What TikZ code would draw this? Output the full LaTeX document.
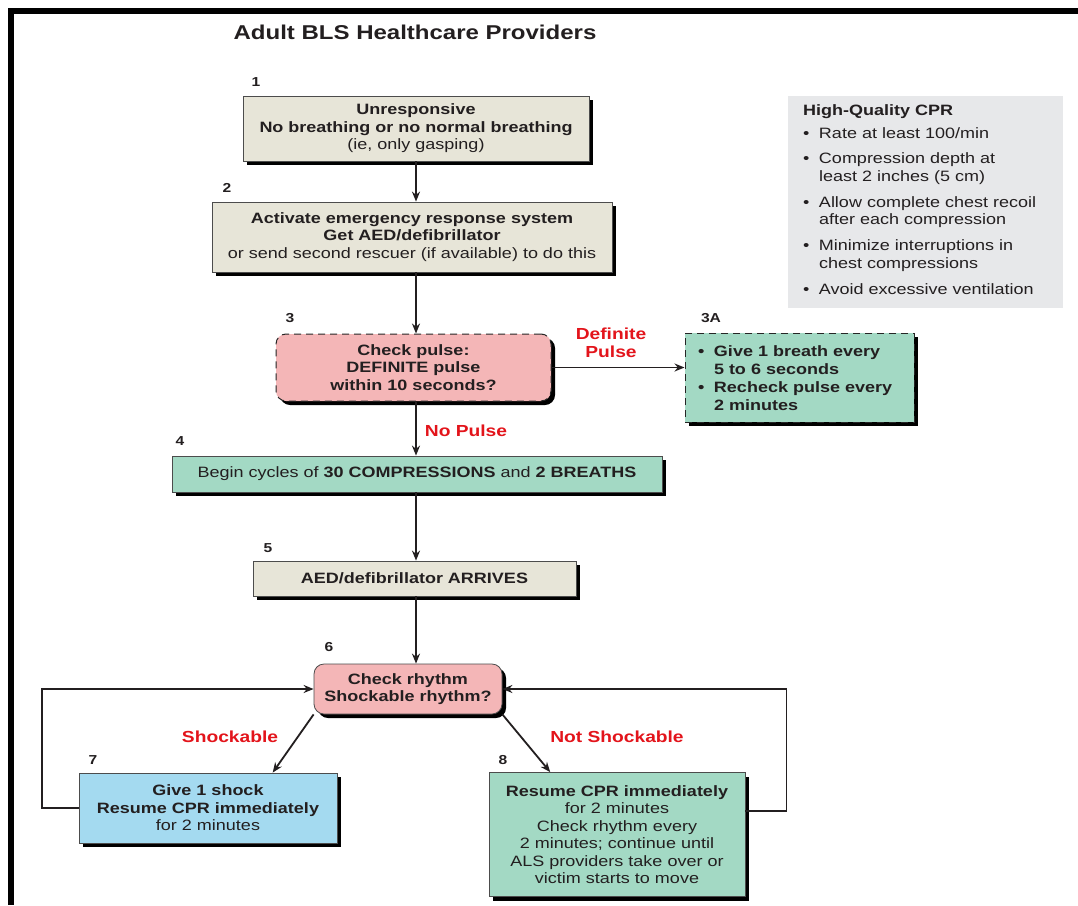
\documentclass[tikz,border=0pt]{standalone}
\usepackage{fontspec}
\setmainfont{Liberation Sans}[FakeStretch=1.2]
\usetikzlibrary{shadows,arrows.meta,calc}

\definecolor{ink}{HTML}{231F20}
\definecolor{boxbeige}{HTML}{E7E5D8}
\definecolor{boxpink}{HTML}{F4B6B7}
\definecolor{boxgreen}{HTML}{A3D9C4}
\definecolor{boxblue}{HTML}{A4DAF0}
\definecolor{panelgray}{HTML}{E7E8EA}
\definecolor{alertred}{HTML}{E3141B}

\newcommand{\bodysize}{\fontsize{15}{17.5}\selectfont}
% bulleted entry, its lines aligned after the bullet; optional space above
\newcommand{\listpoint}[2][0pt]{\par\vspace{#1}\noindent\hbox to 16pt{\textbullet\hfil}\begin{tabular}[t]{@{}l@{}}#2\end{tabular}}

\tikzset{
  stepbox/.style={draw=black!70, line width=0.8pt, text=ink, align=center,
    inner sep=0pt, font=\bodysize,
    drop shadow={shadow xshift=4pt, shadow yshift=-4pt, fill=black, opacity=1}},
  beigebox/.style={stepbox, fill=boxbeige},
  greenbox/.style={stepbox, fill=boxgreen},
  bluebox/.style={stepbox, fill=boxblue},
  pinkbox/.style={stepbox, fill=boxpink, rounded corners=10pt},
  dashbox/.style={draw=black!85, line width=1pt, dash pattern=on 7pt off 5pt},
  num/.style={font=\fontsize{13}{15}\selectfont\bfseries, text=ink, inner sep=0pt},
  branch/.style={font=\fontsize{16}{18}\selectfont\bfseries, text=alertred, align=center, inner sep=0pt},
  arr/.style={draw=ink, line width=1.8pt, -{Stealth[length=10pt,width=8pt]}},
}

\begin{document}
\begin{tikzpicture}[x=1pt,y=-1pt]
\useasboundingbox (0,0) rectangle (1078,905);
\fill[white] (0,0) rectangle (1078,905);

% frame
\fill[black] (8,8) rectangle (1078,14);
\fill[black] (8,8) rectangle (14,905);

% heading
\node[font=\fontsize{20}{24}\selectfont\bfseries, text=ink, inner sep=0pt] (title) at (415,32) {Adult BLS Healthcare Providers};

% side panel
\node[fill=panelgray, text=ink, font=\bodysize, align=left, text width=245pt,
      inner xsep=15pt, inner ysep=0pt, minimum height=212pt] (cpr) at (925.5,202)
{{\bfseries High-Quality CPR}
 \listpoint[6pt]{Rate at least 100/min}
 \listpoint[7.5pt]{Compression depth at\\least 2 inches (5 cm)}
 \listpoint[7.5pt]{Allow complete chest recoil\\after each compression}
 \listpoint[7.5pt]{Minimize interruptions in\\chest compressions}
 \listpoint[7.5pt]{Avoid excessive ventilation}};

% steps
\node[beigebox, minimum width=346pt, minimum height=65pt] (b1) at (416,128.5)
  {\bfseries Unresponsive\\\bfseries No breathing or no normal breathing\\(ie, only gasping)};
\node[beigebox, minimum width=400pt, minimum height=70pt] (b2) at (412,237)
  {\bfseries Activate emergency response system\\\bfseries Get AED/defibrillator\\or send second rescuer (if available) to do this};
\node[pinkbox, dashbox, minimum width=275pt, minimum height=67pt] (b3) at (413.5,367.5)
  {\bfseries Check pulse:\\\bfseries DEFINITE pulse\\\bfseries within 10 seconds?};
\node[greenbox, dashbox, align=left, text width=203pt, inner xsep=13pt, minimum height=89pt] (b3a) at (799.5,377.5)
  {\bfseries\listpoint{\bfseries Give 1 breath every\\\bfseries 5 to 6 seconds}\listpoint{\bfseries Recheck pulse every\\\bfseries 2 minutes}};
\node[greenbox, minimum width=490pt, minimum height=36pt] (b4) at (417,474)
  {Begin cycles of \textbf{30 COMPRESSIONS} and \textbf{2 BREATHS}};
\node[beigebox, minimum width=323pt, minimum height=35pt] (b5) at (414.5,578.5)
  {\bfseries AED/defibrillator ARRIVES};
\node[pinkbox, minimum width=188pt, minimum height=50pt] (b6) at (408,689)
  {\bfseries Check rhythm\\\bfseries Shockable rhythm?};
\node[bluebox, minimum width=258pt, minimum height=70pt] (b7) at (208,808)
  {\bfseries Give 1 shock\\\bfseries Resume CPR immediately\\for 2 minutes};
\node[greenbox, minimum width=256pt, minimum height=124pt] (b8) at (617,834.5)
  {\bfseries Resume CPR immediately\\for 2 minutes\\Check rhythm every\\2 minutes; continue until\\ALS providers take over or\\victim starts to move};

% step numbers
\node[num] (n1) at (256,82) {1};
\node[num] (n2) at (227,188) {2};
\node[num] (n3) at (290,318) {3};
\node[num] (n3a) at (711,318) {3A};
\node[num] (n4) at (180,441) {4};
\node[num] (n5) at (268,548) {5};
\node[num] (n6) at (329,647) {6};
\node[num] (n7) at (93,760) {7};
\node[num] (n8) at (503,760) {8};

% branch labels
\node[branch] (ldef) at (611,343) {Definite\\Pulse};
\node[branch] (lnop) at (466,431) {No Pulse};
\node[branch] (lshk) at (230,737) {Shockable};
\node[branch] (lnsh) at (617,737) {Not Shockable};

% main column
\coordinate (spine) at (416,0);
\draw[arr] (spine |- b1.south) -- (spine |- b2.north);
\draw[arr] (spine |- b2.south) -- (spine |- b3.north);
\draw[arr] (spine |- b3.south) -- (spine |- b4.north);
\draw[arr] (spine |- b4.south) -- (spine |- b5.north);
\draw[arr] (spine |- b5.south) -- (spine |- b6.north);

% pulse found
\draw[arr] (b3.east) -- (b3a.west |- b3.east);

% rhythm branches
\draw[arr] (b6.south west) -- ($(b7.north west)!0.75!(b7.north east)$);
\draw[arr] (b6.south east) -- ($(b8.north west)!0.24!(b8.north east)$);

% loops back to rhythm check
\draw[arr] (b7.west) -- ++(-37,0) |- (b6.west);
\coordinate (b8out) at ($(b8.north east)!0.31!(b8.south east)$);
\draw[arr] (b8out) -- ++(41,0) |- (b6.east);
\end{tikzpicture}
\end{document}
